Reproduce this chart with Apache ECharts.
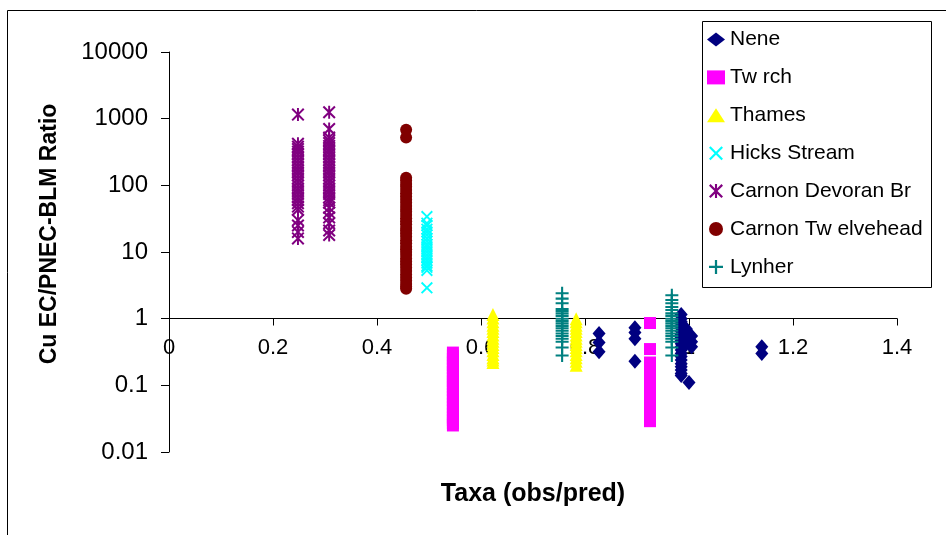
<!DOCTYPE html>
<html><head><meta charset="utf-8">
<script src="https://cdn.jsdelivr.net/npm/echarts@6/dist/echarts.min.js"></script>
<style>html,body{margin:0;padding:0;background:#fff}#c{width:946px;height:535px}</style>
</head><body><div id="c"></div>
<script>
// ---- data ----
const seriesNames = ['Nene', 'Tw rch', 'Thames', 'Hicks Stream', 'Carnon Devoran Br', 'Carnon Tw elvehead', 'Lynher'];
const xAxisMin = 0, xAxisMax = 1.4, xAxisStep = 0.2;
const yTickLabels = ['0.01', '0.1', '1', '10', '100', '1000', '10000'];
const xTitle = 'Taxa (obs/pred)';
const yTitle = 'Cu EC/PNEC-BLM Ratio';

const neneX = [0.827, 0.896, 0.985, 0.995, 1.005, 1.0, 1.14];
const neneY = [
  [0.6, 0.44, 0.32],
  [0.73, 0.62, 0.5, 0.23],
  [1.15, 1.0, 0.9, 0.8, 0.72, 0.65, 0.58, 0.52, 0.47, 0.42, 0.38, 0.34, 0.3, 0.27, 0.24, 0.21, 0.19, 0.17, 0.15, 0.14],
  [0.7, 0.6, 0.5, 0.42],
  [0.55, 0.45, 0.38],
  [0.11],
  [0.38, 0.3]
];
const twrchX = [0.546, 0.925];
const twrchY = [
  [0.31, 0.28, 0.25, 0.22, 0.2, 0.18, 0.16, 0.145, 0.13, 0.115, 0.105, 0.095, 0.085, 0.075, 0.067, 0.06, 0.053, 0.047, 0.042, 0.037, 0.033, 0.03, 0.027, 0.025],
  [0.86, 0.35, 0.22, 0.19, 0.165, 0.145, 0.125, 0.11, 0.1, 0.09, 0.08, 0.07, 0.062, 0.055, 0.049, 0.044, 0.039, 0.035, 0.031, 0.029]
];
const thamesX = [0.623, 0.783];
const thamesY = [
  [1.15, 1.02, 0.9, 0.8, 0.72, 0.64, 0.57, 0.51, 0.46, 0.41, 0.37, 0.33, 0.29, 0.26, 0.24, 0.22],
  [1.0, 0.9, 0.8, 0.72, 0.64, 0.57, 0.51, 0.46, 0.41, 0.37, 0.33, 0.29, 0.26, 0.23, 0.2]
];
const hicksX = [0.496];
const hicksY = [
  [34, 27, 25, 22, 20, 18, 16, 14.5, 13, 12, 11, 10, 9, 8.2, 7.5, 6.8, 6.2, 5.9, 5.3, 2.9]
];
const devoranX = [0.248, 0.308];
const devoranY = [
  [1150, 420, 380, 350, 320, 290, 260, 235, 210, 190, 170, 155, 140, 125, 112, 100, 90, 82, 74, 66, 60, 54, 48, 43, 30, 25, 20, 16],
  [1250, 700, 520, 470, 430, 390, 350, 320, 290, 260, 235, 210, 190, 170, 155, 140, 125, 112, 100, 90, 82, 74, 66, 60, 55, 46, 39, 33, 27, 21, 18]
];
const twelveheadX = [0.456];
const twelveheadY = [
  [680, 520, 130, 118, 105, 95, 85, 76, 68, 61, 55, 49, 44, 40, 36, 32, 29, 26, 23, 21, 19, 17, 15, 13.5, 12, 11, 10, 9, 8, 7.2, 6.5, 5.8, 5.2, 4.6, 4.1, 3.7, 3.3, 3.0, 2.8]
];
const lynherX = [0.756, 0.967];
const lynherY = [
  [2.4, 2.0, 1.7, 1.4, 1.3, 1.2, 1.1, 1.0, 0.92, 0.85, 0.78, 0.72, 0.66, 0.6, 0.55, 0.5, 0.45, 0.37, 0.28],
  [2.25, 1.9, 1.7, 1.5, 1.35, 1.2, 1.1, 1.0, 0.92, 0.85, 0.78, 0.72, 0.66, 0.6, 0.55, 0.5, 0.45, 0.37, 0.28]
];

// ---- build ----
function pairs(xs, ys) { return xs.flatMap((x, i) => ys[i].map(y => [x, y])); }
const FONT = '"Liberation Sans", Arial, sans-serif';
const symX = 'path://M0,1.1L1.1,0L5,3.9L8.9,0L10,1.1L6.1,5L10,8.9L8.9,10L5,6.1L1.1,10L0,8.9L3.9,5Z';
const symStar = 'path://M0,1.1L1.1,0L5,3.9L8.9,0L10,1.1L6.1,5L10,8.9L8.9,10L5,6.1L1.1,10L0,8.9L3.9,5ZM4.25,0H5.75V10H4.25Z';
const symPlus = 'path://M4.2,0H5.8V4.2H10V5.8H5.8V10H4.2V5.8H0V4.2H4.2Z';

const specs = [
  { name: seriesNames[0], data: pairs(neneX, neneY), symbol: 'diamond', size: [13, 15], color: '#000080' },
  { name: seriesNames[1], data: pairs(twrchX, twrchY), symbol: 'rect', size: 12, color: '#FF00FF' },
  { name: seriesNames[2], data: pairs(thamesX, thamesY), symbol: 'triangle', size: 13, color: '#FFFF00' },
  { name: seriesNames[3], data: pairs(hicksX, hicksY), symbol: symX, size: 12, color: '#00FFFF' },
  { name: seriesNames[4], data: pairs(devoranX, devoranY), symbol: symStar, size: 13, color: '#800080' },
  { name: seriesNames[5], data: pairs(twelveheadX, twelveheadY), symbol: 'circle', size: 12, color: '#800000' },
  { name: seriesNames[6], data: pairs(lynherX, lynherY), symbol: symPlus, size: 13, color: '#008080' }
];

const chart = echarts.init(document.getElementById('c'), null, { renderer: 'canvas' });
chart.setOption({
  animation: false,
  backgroundColor: '#ffffff',
  grid: { left: 169, right: 49, top: 52, bottom: 83, containLabel: false, outerBoundsMode: 'none' },
  xAxis: {
    type: 'value', min: xAxisMin, max: xAxisMax, interval: xAxisStep,
    position: 'bottom', offset: -133.5,
    axisLine: { show: true, onZero: false, lineStyle: { color: '#000', width: 1 } },
    axisTick: { show: true, inside: false, length: 7, lineStyle: { color: '#000' } },
    axisLabel: { color: '#000', fontSize: 22, fontFamily: FONT, margin: 18, formatter: v => String(Math.round(v * 10) / 10) },
    splitLine: { show: false }
  },
  yAxis: {
    type: 'log', logBase: 10, min: 0.01, max: 10000,
    axisLine: { show: true, onZero: false, lineStyle: { color: '#000', width: 1 } },
    axisTick: { show: true, inside: false, length: 8, lineStyle: { color: '#000' } },
    axisLabel: { color: '#000', fontSize: 24, fontFamily: FONT, margin: 21,
      formatter: v => yTickLabels[Math.round(Math.log10(v)) + 2] },
    splitLine: { show: false }
  },
  legend: {
    orient: 'vertical', left: 707, top: 29, padding: 0,
    itemWidth: 18, itemHeight: 14, itemGap: 16.9,
    textStyle: { color: '#000', fontSize: 21, fontFamily: FONT, lineHeight: 21 },
    data: seriesNames
  },
  graphic: [
    { type: 'line', shape: { x1: 7.5, y1: 10.5, x2: 946, y2: 10.5 }, style: { stroke: '#000', lineWidth: 1 } },
    { type: 'line', shape: { x1: 7.5, y1: 10.5, x2: 7.5, y2: 535 }, style: { stroke: '#000', lineWidth: 1 } },
    { type: 'rect', shape: { x: 702.5, y: 21.5, width: 229, height: 266 }, style: { fill: 'none', stroke: '#000', lineWidth: 1 }, z: 10 },
    { type: 'text', x: 533, y: 494, style: { text: xTitle, font: 'bold 25px ' + FONT, fill: '#000', textAlign: 'center', textVerticalAlign: 'middle' } },
    { type: 'text', x: 50, y: 234, rotation: Math.PI / 2, style: { text: yTitle, font: 'bold 23px ' + FONT, fill: '#000', textAlign: 'center', textVerticalAlign: 'middle' } }
  ],
  series: specs.map(s => ({
    type: 'scatter', name: s.name, data: s.data, symbol: s.symbol, symbolSize: s.size,
    itemStyle: { color: s.color, opacity: 1 }, emphasis: { disabled: true }
  }))
});
</script></body></html>
